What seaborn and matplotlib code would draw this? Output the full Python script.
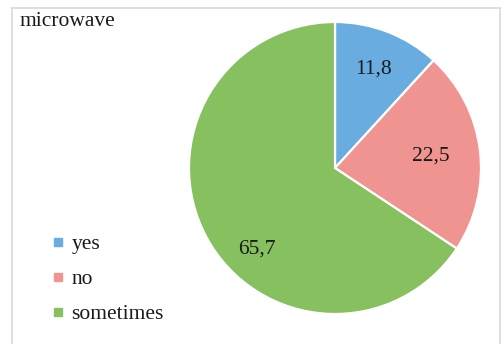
import matplotlib
matplotlib.use("Agg")
import matplotlib.pyplot as plt
import seaborn as sns
import numpy as np
from matplotlib.lines import Line2D

# Survey answers for "microwave" (percent)
categories = ["yes", "no", "sometimes"]
values = [11.8, 22.5, 65.7]
value_labels = ["11,8", "22,5", "65,7"]
colors = ["#69ade0", "#f09491", "#86c05f"]

sns.set_theme(style="white")
plt.rcParams["font.family"] = ["Liberation Serif", "DejaVu Serif"]

W, H = 502, 344
FS = 15.5
fig = plt.figure(figsize=(W / 100, H / 100), dpi=100)
fig.patch.set_facecolor("white")

# chart frame
frame_kw = dict(color="#d9d9d9", linewidth=1.2, transform=fig.transFigure)
fig.add_artist(Line2D([12.5 / W, 12.5 / W], [0, 1 - 7.5 / H], **frame_kw))
fig.add_artist(Line2D([12.5 / W, 500.5 / W], [1 - 7.5 / H, 1 - 7.5 / H], **frame_kw))
fig.add_artist(Line2D([500.5 / W, 500.5 / W], [0, 1 - 7.5 / H], **frame_kw))

# pie area
cx, cy, r = 335, 168, 146
ax = fig.add_axes([(cx - r) / W, (H - cy - r) / H, 2 * r / W, 2 * r / H])
wedges, _ = ax.pie(values, colors=colors, startangle=90, counterclock=False,
                   radius=1.0,
                   wedgeprops=dict(edgecolor="white", linewidth=1.6))
ax.set_xlim(-1, 1)
ax.set_ylim(-1, 1)
ax.axis("off")

# value labels, placed along each wedge's mid-angle
label_dist = [0.73, 0.66, 0.77]
label_shift = [0, 0, 18]
for w, lab, d, sh in zip(wedges, value_labels, label_dist, label_shift):
    ang = np.deg2rad((w.theta1 + w.theta2) / 2 + sh)
    ax.text(d * np.cos(ang), d * np.sin(ang), lab, ha="center", va="center",
            fontsize=FS, color="#1a1a1a")

fig.text(20 / W, 1 - 21 / H, "microwave", ha="left", va="center",
         fontsize=FS, color="#1a1a1a")

handles = [Line2D([], [], marker="s", linestyle="none", markersize=5.5,
                  markerfacecolor=c, markeredgecolor=c) for c in colors]
fig.legend(handles, categories, loc="upper left",
           bbox_to_anchor=(52 / W, 1 - 234 / H), frameon=False,
           fontsize=FS, handlelength=0.6, handletextpad=0.3,
           labelspacing=0.70, borderpad=0, borderaxespad=0,
           labelcolor="#1a1a1a")

fig.savefig("out.png", dpi=100, facecolor="white")
